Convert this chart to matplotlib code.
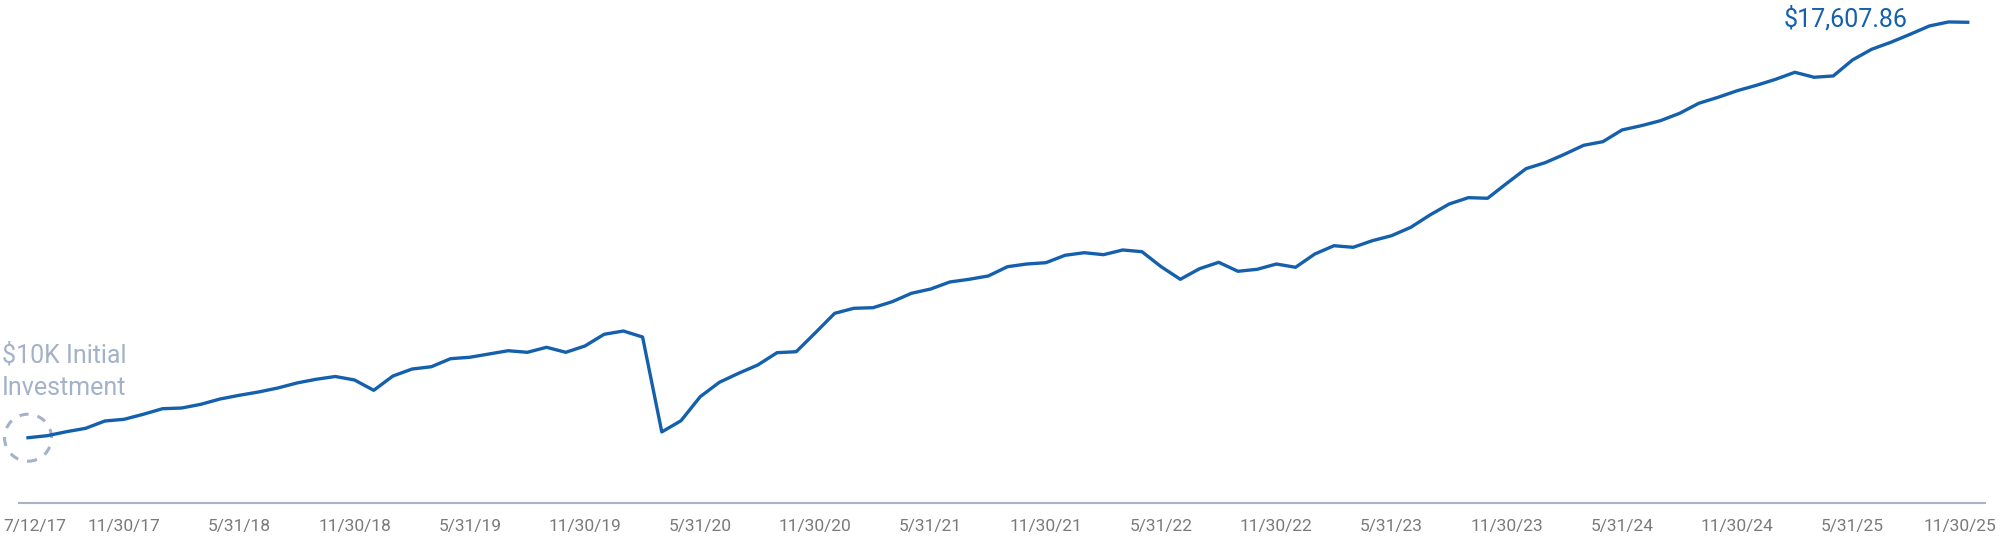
import pandas as pd
import matplotlib.pyplot as plt
from matplotlib.patches import Circle
from matplotlib.transforms import ScaledTranslation

plt.rcParams['font.family'] = ['Roboto', 'DejaVu Sans']

# inception date, then every month end up to 11/30/25
month_ends = pd.date_range("2017-07-31", "2025-11-30", freq="ME")
dates = ["7/12/17"] + [f"{d.month}/{d.day}/{d:%y}" for d in month_ends]

# growth of $10K
values = [
    10000, 10037, 10110, 10172, 10306, 10337, 10429, 10531, 10544, 10612,
    10709, 10777, 10837, 10910, 11002, 11070, 11121, 11057, 10868, 11130,
    11258, 11300, 11447, 11473, 11533, 11593, 11564, 11656, 11564, 11680,
    11894, 11954, 11844, 10106, 10311, 10751, 11015, 11180, 11332, 11557,
    11575, 11923, 12278, 12370, 12381, 12491, 12645, 12723, 12852, 12901,
    12962, 13132, 13181, 13205, 13341, 13388, 13352, 13438, 13407, 13132,
    12901, 13095, 13212, 13048, 13084, 13181, 13121, 13364, 13516, 13487,
    13608, 13700, 13853, 14079, 14280, 14396, 14385, 14659, 14927, 15037,
    15190, 15355, 15421, 15636, 15714, 15806, 15941, 16125, 16234, 16355,
    16454, 16564, 16692, 16601, 16625, 16918, 17114, 17242, 17388, 17540,
    17614, 17607.86,
]

tick_labels = ["7/12/17", "11/30/17", "5/31/18", "11/30/18", "5/31/19", "11/30/19",
               "5/31/20", "11/30/20", "5/31/21", "11/30/21", "5/31/22", "11/30/22",
               "5/31/23", "11/30/23", "5/31/24", "11/30/24", "5/31/25", "11/30/25"]

line_color = '#1560ad'
soft_color = '#a3b2c9'

fig = plt.figure(figsize=(20, 5.4), dpi=100)
ax = fig.add_axes([0.0095, 0.0694, 0.983, 0.9306])

x = list(range(len(dates)))
ax.plot(x, values, color=line_color, lw=2.4, solid_joinstyle='round', zorder=3)

ax.set_xlim(-0.47, len(dates) - 1 + 0.9)
ax.set_ylim(8813, 18016)

ax.set_xticks([dates.index(t) for t in tick_labels])
ax.set_xticklabels(tick_labels)
ax.tick_params(axis='x', length=0, pad=12, labelsize=12.5, labelcolor='#7a7a7a')
ax.set_yticks([])

for side in ['top', 'right', 'left']:
    ax.spines[side].set_visible(False)
ax.spines['bottom'].set_color('#a8b3c6')
ax.spines['bottom'].set_linewidth(1.5)

# nudge the end labels so they stay inside the figure
labels = ax.get_xticklabels()
labels[0].set_transform(labels[0].get_transform() + ScaledTranslation(0.07, 0, fig.dpi_scale_trans))
labels[-1].set_transform(labels[-1].get_transform() + ScaledTranslation(-0.08, 0, fig.dpi_scale_trans))

# dashed ring round the starting point
ring = Circle((0, 0), 0.235, transform=fig.dpi_scale_trans + ScaledTranslation(0, values[0], ax.transData),
              fill=False, ec=soft_color, lw=2.2, ls=(0, (3, 3)), clip_on=False, zorder=2)
ax.add_patch(ring)

ax.annotate("$10K Initial\nInvestment", xy=(0, values[0]), xytext=(-26, 42.7),
            textcoords='offset pixels', ha='left', va='baseline', fontsize=18,
            color=soft_color, linespacing=1.45)

ax.annotate(f"${values[-1]:,.2f}", xy=(x[-1], values[-1]), xytext=(-60, -4.4),
            textcoords='offset pixels', ha='right', va='baseline', fontsize=18,
            color=line_color)

fig.savefig('out.png', dpi=100)
